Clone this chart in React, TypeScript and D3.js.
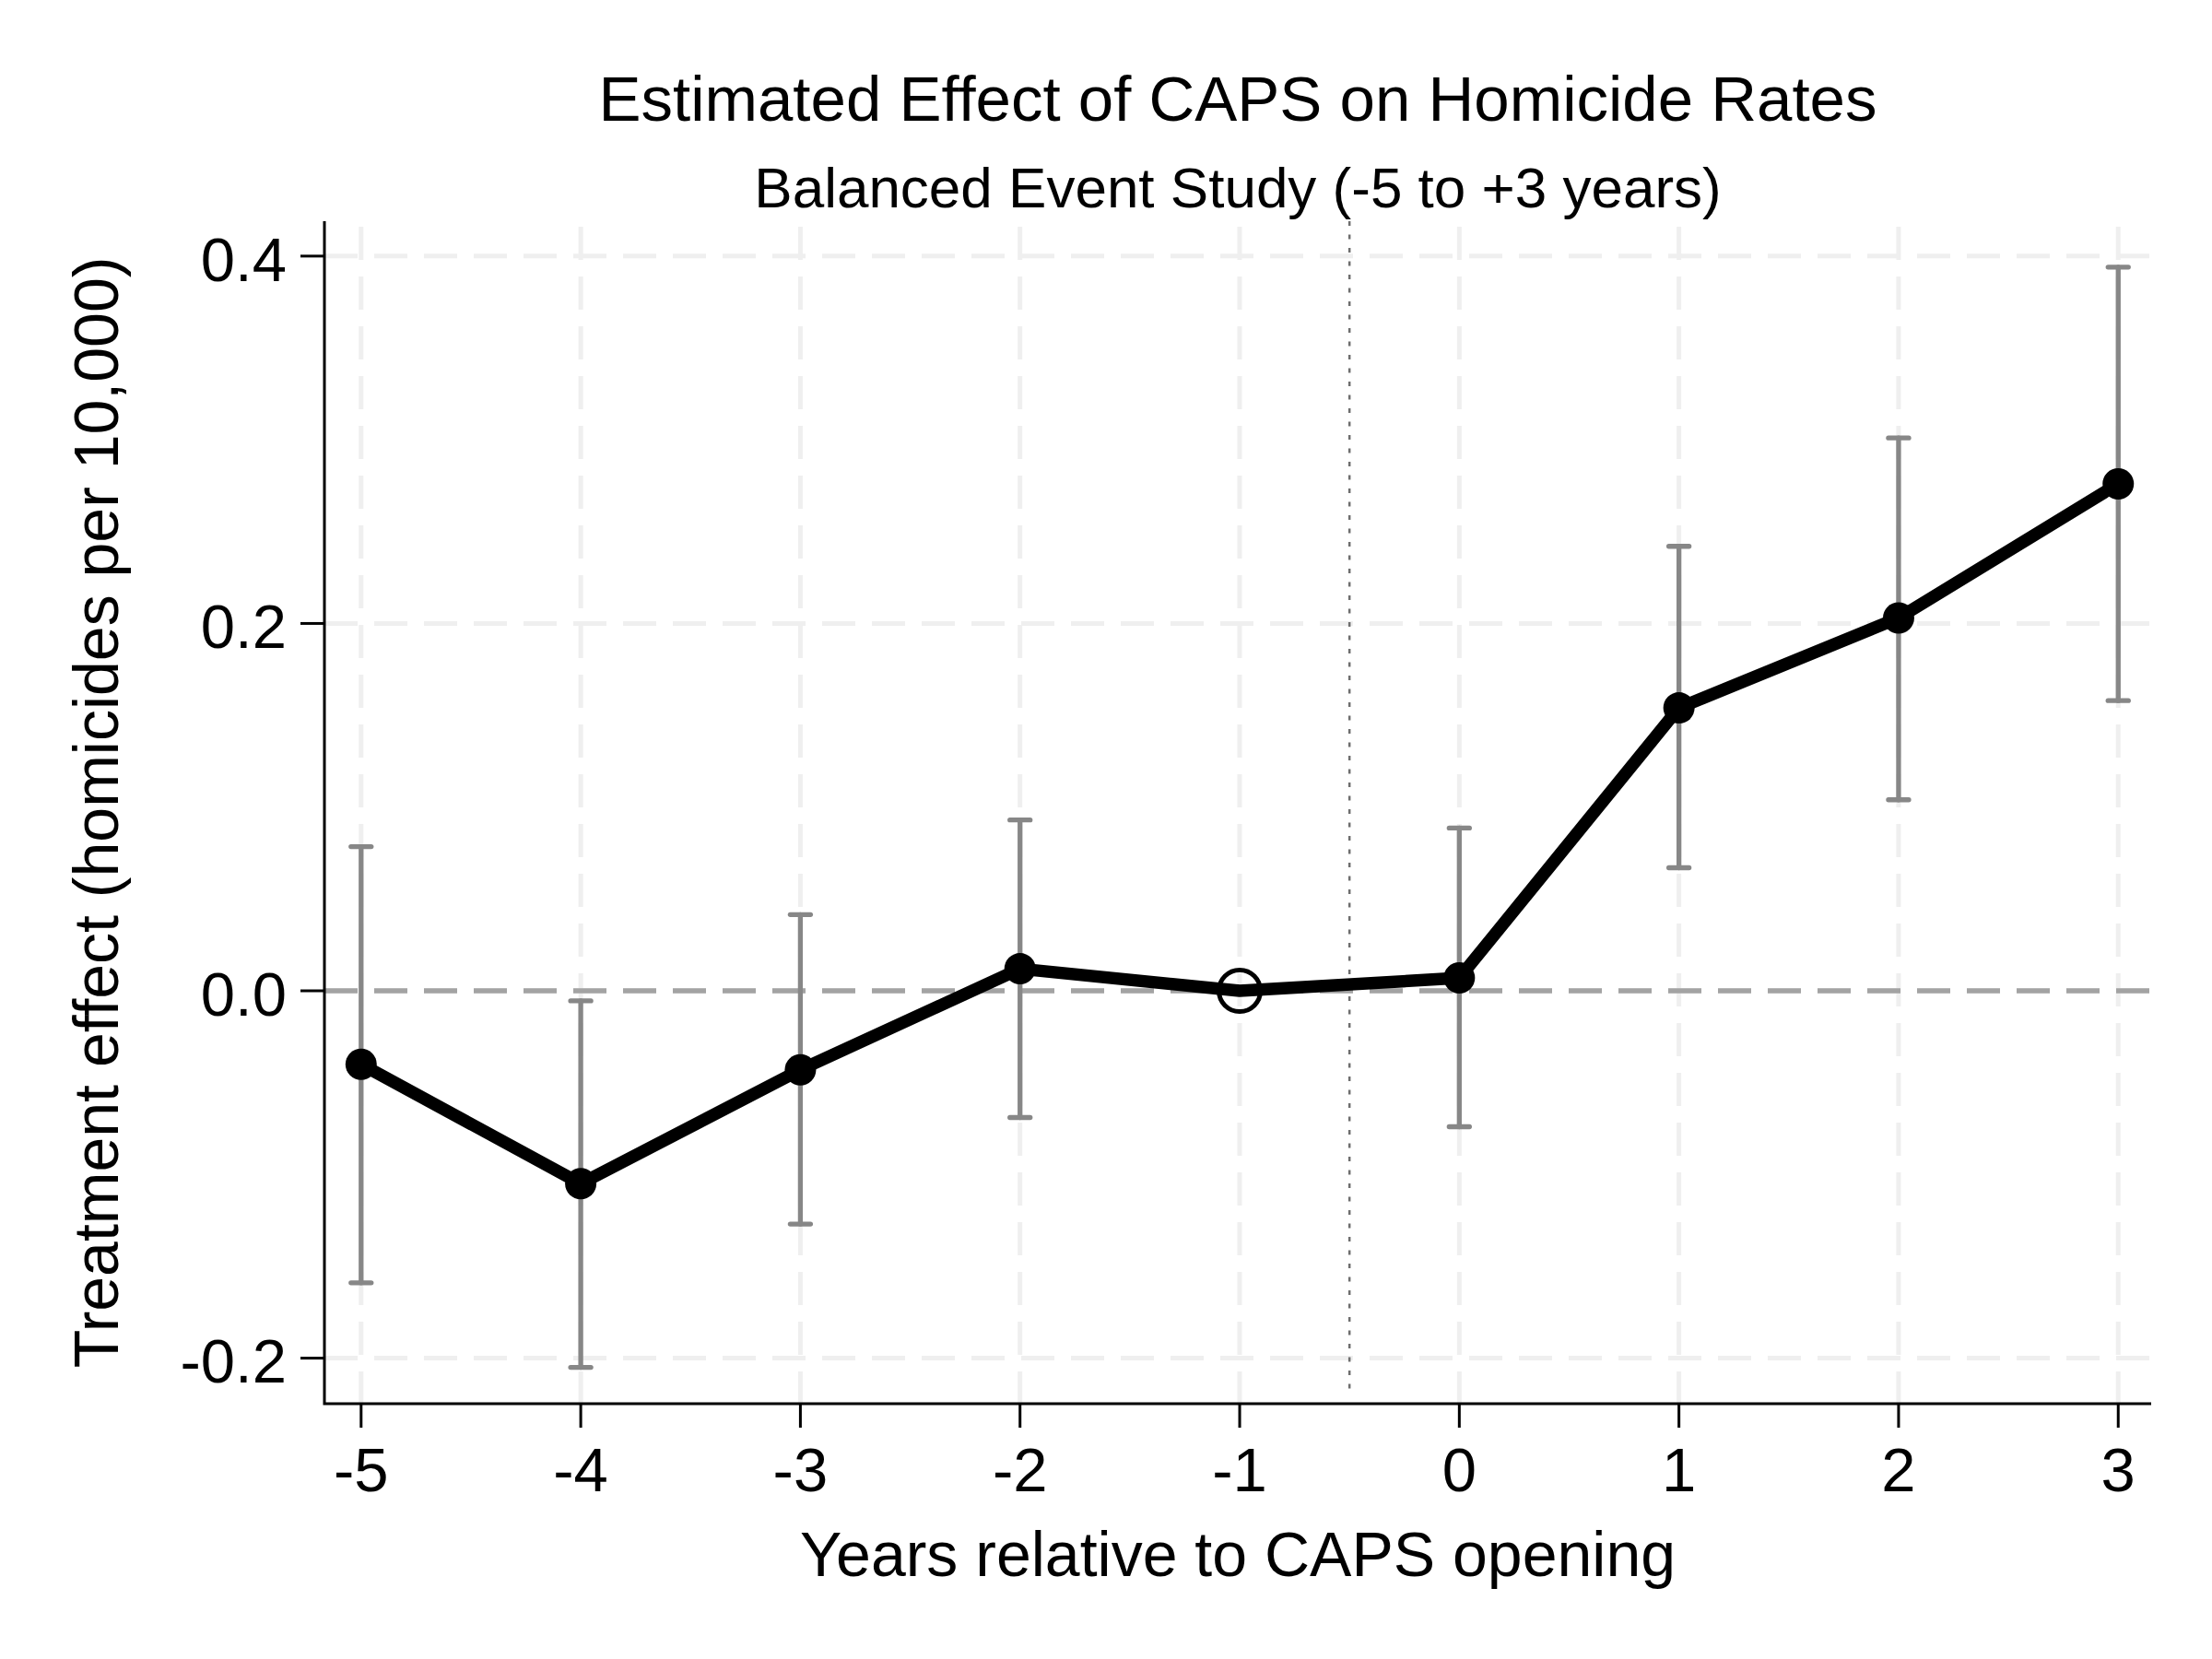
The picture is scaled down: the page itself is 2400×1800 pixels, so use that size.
import { useEffect } from 'react'
import * as d3 from 'd3'

// event-study estimates
const years = [-5, -4, -3, -2, -1, 0, 1, 2, 3]
const estimates = [-0.040, -0.105, -0.043, 0.012, 0, 0.007, 0.154, 0.203, 0.276]
const ciLower = [-0.159, -0.205, -0.127, -0.069, null, -0.074, 0.067, 0.104, 0.158]
const ciUpper = [0.0785, -0.0055, 0.0415, 0.093, null, 0.0886, 0.242, 0.301, 0.394]
const yTicks = [-0.2, 0, 0.2, 0.4]
const refYear = -1
const openingLine = -0.5

const W = 2400
const H = 1800
const FONT = '"Liberation Sans", Arial, Helvetica, sans-serif'

export default function App() {
  useEffect(() => { document.body.style.margin = '0' }, [])

  const left = 352, right = 2334, top = 240, bottom = 1523
  const x = d3.scaleLinear().domain([-5.167, 3.15]).range([left, right])
  const y = d3.scaleLinear().domain([-0.2248, 0.419]).range([bottom, top])

  const pts = years.map((yr, i) => ({ yr, v: estimates[i], lo: ciLower[i], hi: ciUpper[i] }))
  const line = d3.line<{ yr: number; v: number }>().x(d => x(d.yr)).y(d => y(d.v))

  const cx = (left + right) / 2
  const cy = (top + bottom) / 2

  return (
    <svg width={W} height={H} viewBox={`0 0 ${W} ${H}`} style={{ display: 'block', background: '#fff' }} fontFamily={FONT}>
      <rect width={W} height={H} fill="#fff" />

      {/* grid */}
      {yTicks.map(t => (
        <line key={'hg' + t} x1={left} x2={right} y1={y(t)} y2={y(t)}
          stroke="#efefef" strokeWidth={5} strokeDasharray="36 18" />
      ))}
      {years.map(yr => (
        <line key={'vg' + yr} x1={x(yr)} x2={x(yr)} y1={top + 6} y2={bottom}
          stroke="#efefef" strokeWidth={5} strokeDasharray="36 18" />
      ))}

      {/* zero reference and opening line */}
      <line x1={left} x2={right} y1={y(0)} y2={y(0)} stroke="#a3a3a3" strokeWidth={5.3} strokeDasharray="36 18" />
      <line x1={x(openingLine)} x2={x(openingLine)} y1={top} y2={bottom - 10}
        stroke="#6e6e6e" strokeWidth={2.5} strokeDasharray="5 9.5" />

      {/* confidence intervals */}
      {pts.filter(p => p.lo != null && p.hi != null).map(p => (
        <g key={'ci' + p.yr} stroke="#878787" strokeWidth={5.3} strokeLinecap="round">
          <line x1={x(p.yr)} x2={x(p.yr)} y1={y(p.lo as number)} y2={y(p.hi as number)} />
          <line x1={x(p.yr) - 11} x2={x(p.yr) + 11} y1={y(p.lo as number)} y2={y(p.lo as number)} />
          <line x1={x(p.yr) - 11} x2={x(p.yr) + 11} y1={y(p.hi as number)} y2={y(p.hi as number)} />
        </g>
      ))}

      {/* estimates */}
      <path d={line(pts) ?? ''} fill="none" stroke="#000" strokeWidth={13.5} strokeLinejoin="round" />
      {pts.map(p => p.yr === refYear
        ? <circle key={'m' + p.yr} cx={x(p.yr)} cy={y(p.v)} r={22.5} fill="none" stroke="#000" strokeWidth={5} />
        : <circle key={'m' + p.yr} cx={x(p.yr)} cy={y(p.v)} r={17} fill="#000" />
      )}

      {/* axes */}
      <path d={`M${left},${top}V${bottom}H${right}`} fill="none" stroke="#000" strokeWidth={3} />
      {yTicks.map(t => (
        <g key={'yt' + t}>
          <line x1={left - 26} x2={left} y1={y(t)} y2={y(t)} stroke="#000" strokeWidth={3} />
          <text x={left - 41} y={y(t)} dy="0.4em" textAnchor="end" fontSize={67}>{d3.format('.1f')(t).replace('−', '-')}</text>
        </g>
      ))}
      {years.map(yr => (
        <g key={'xt' + yr}>
          <line x1={x(yr)} x2={x(yr)} y1={bottom} y2={bottom + 26} stroke="#000" strokeWidth={3} />
          <text x={x(yr)} y={bottom + 95} textAnchor="middle" fontSize={67}>{String(yr)}</text>
        </g>
      ))}

      {/* titles */}
      <text x={cx} y={131} textAnchor="middle" fontSize={69}>Estimated Effect of CAPS on Homicide Rates</text>
      <text x={cx} y={225} textAnchor="middle" fontSize={62}>Balanced Event Study (-5 to +3 years)</text>
      <text x={cx} y={1710} textAnchor="middle" fontSize={68}>Years relative to CAPS opening</text>
      <text transform={`translate(128,${cy}) rotate(-90)`} textAnchor="middle" fontSize={68}>Treatment effect (homicides per 10,000)</text>
    </svg>
  )
}
